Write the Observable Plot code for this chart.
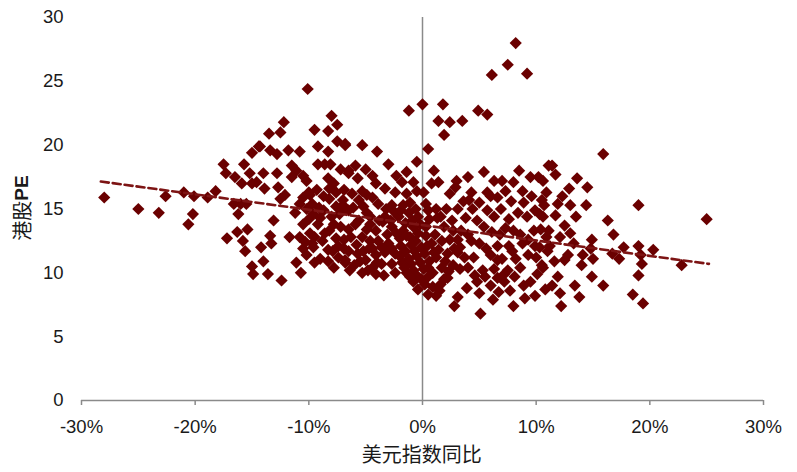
<!DOCTYPE html>
<html>
<head>
<meta charset="utf-8">
<script src="https://cdn.jsdelivr.net/npm/d3@7"></script>
<script src="https://cdn.jsdelivr.net/npm/@observablehq/plot@0.6"></script>
<style>
  html, body { margin: 0; padding: 0; background: #fff; }
  #chart svg { display: block; }
</style>
</head>
<body>
<div id="chart"></div>
<script>
// X: 美元指数同比 (%), Y: 港股PE
const xTicks = [-30, -20, -10, 0, 10, 20, 30];
const yTicks = [0, 5, 10, 15, 20, 25, 30];
const xLabel = "美元指数同比";
const yLabelCn = "港股";
const yLabelEn = "PE";

// trend line end points (linear fit drawn in the source)
const trendX = [-28.3, 25.2];
const trendY = [17.15, 10.7];

const leftPoints = [
  [-28.0,15.9],[-25.0,15.0],[-23.2,14.7],[-22.6,16.0],[-21.0,16.3],[-20.1,16.0],[-20.2,14.6],[-20.6,13.8],
  [-18.9,15.9],[-18.2,16.4],[-17.5,18.5],[-17.3,17.8],[-16.5,17.5],[-15.7,18.5],[-15.0,19.4],[-14.4,19.9],
  [-15.2,17.8],[-15.9,17.0],[-15.0,17.0],[-16.6,15.4],[-16.0,15.4],[-15.5,15.4],[-16.2,14.6],[-16.3,13.2],
  [-15.4,13.4],[-17.2,12.7],[-15.6,11.7],[-15.0,10.5],[-14.9,9.9],[-15.8,12.5],[-14.2,12.0],[-14.0,10.9]
];

const midLeftPoints = [
  [-10.1,24.4],[-12.2,21.8],[-13.5,20.9],[-12.5,21.0],[-14.3,19.9],[-13.4,19.6],[-12.8,19.3],[-11.8,19.6],
  [-10.8,19.5],[-8.0,22.3],[-7.5,21.6],[-9.5,21.2],[-8.3,21.1],[-7.5,20.3],[-6.8,20.1],[-9.2,19.9],
  [-8.3,19.5],[-14.0,17.8],[-12.8,17.8],[-11.5,18.4],[-11.1,18.0],[-10.5,17.6],[-11.5,17.5],[-10.2,17.2],
  [-9.2,18.5],[-8.6,18.5],[-8.1,18.5],[-7.2,18.1],[-6.5,18.0],[-8.3,17.4],[-7.8,17.0],[-8.2,16.6],
  [-14.6,17.1],[-13.9,16.6],[-12.7,16.7],[-12.1,16.1],[-12.5,15.8],[-10.5,15.9],[-9.9,16.1],[-10.8,15.4],
  [-9.7,15.4],[-10.2,15.0],[-9.1,15.1],[-11.2,14.7],[-8.2,15.8],[-7.0,15.7],[-6.8,15.0],[-7.3,14.6],
  [-13.1,14.1],[-10.5,13.8],[-9.2,13.8],[-8.2,13.3],[-7.2,13.6],[-13.4,12.9],[-13.3,12.3],[-11.7,12.8],
  [-10.8,12.8],[-9.5,12.8],[-8.8,12.5],[-9.7,12.3],[-10.5,11.9],[-10.2,11.4],[-11.1,10.8],[-9.5,10.8],
  [-7.9,11.7],[-6.9,11.9],[-6.8,10.8],[-13.6,9.9],[-12.4,9.4],[-10.7,10.0],
  [-10.0,16.3],[-9.3,16.5],[-8.7,16.0],[-7.6,16.3],[-6.9,16.5],[-4.9,16.1],[-9.6,14.6],[-8.7,14.9],
  [-8.0,14.4],[-7.6,15.2],[-6.1,15.1],[-5.2,15.2],[-4.6,14.4],[-10.0,14.2],[-9.0,14.3],[-7.8,13.8],
  [-6.5,13.4],[-5.6,14.1],[-4.9,13.4],[-3.8,14.1],[-9.9,13.1],[-8.6,13.1],[-7.6,12.7],[-6.9,12.6],
  [-5.8,12.2],[-4.6,12.5],[-10.3,12.4],[-8.3,11.8],[-7.4,12.1],[-5.2,11.7],[-4.4,11.9],[-9.0,11.1],
  [-8.3,10.9],[-7.4,11.2],[-5.5,10.9],[-4.0,10.8],[-7.8,10.4],[-6.4,10.2],[-4.8,10.2],[-9.6,12.0]
];

const centerPoints = [
  [-1.2,22.7],[0.0,23.2],[-6.8,20.0],[-5.3,20.0],[-4.0,19.5],[-3.0,18.5],[-0.5,18.7],[-5.9,18.4],
  [-5.0,18.1],[-6.5,17.8],[-5.7,17.4],[-4.4,17.6],[-4.1,17.0],[-2.3,17.6],[-1.4,17.9],[-1.8,17.1],
  [-0.8,17.1],[-3.3,16.6],[-2.4,16.3],[-1.4,16.2],[-0.5,16.4],[-6.2,16.2],[-5.3,16.4],[-5.6,15.7],
  [-4.4,15.9],[-3.9,15.4],[-7.0,15.3],[-6.5,14.9],[-4.9,14.7],[-2.7,15.3],[-1.7,15.3],[-1.1,15.5],
  [-3.3,14.4],[-2.1,14.4],[-0.4,14.4],[-0.8,13.6],[-5.9,13.8],[-4.6,13.8],[-4.1,13.3],[-2.7,13.6],
  [-1.7,13.3],[-6.3,12.8],[-5.3,12.8],[-3.9,12.5],[-3.0,12.3],[-2.0,12.7],[-1.1,12.8],[-0.4,13.1],
  [-6.5,11.7],[-5.7,11.5],[-4.7,11.9],[-4.1,11.4],[-3.3,11.6],[-2.4,11.5],[-1.5,11.7],[-0.7,11.7],
  [-0.1,12.0],[-6.8,11.0],[-6.0,10.6],[-5.0,11.0],[-4.4,10.4],[-3.6,10.7],[-2.7,10.7],[-1.8,10.8],
  [-1.0,10.7],[-0.2,10.8],[-5.3,10.0],[-4.1,9.9],[-3.4,9.8],[-2.4,10.0],[-1.4,10.0],[-0.5,9.8],
  [-0.8,9.3],[-0.1,9.5],
  [-3.2,15.0],[-2.5,14.8],[-1.9,14.9],[-1.2,14.7],[-0.6,15.0],[0.3,15.4],[-3.5,14.0],[-2.8,14.1],
  [-1.5,13.9],[-0.9,14.1],[-0.2,13.8],[0.6,14.2],[1.3,14.3],[-3.1,13.0],[-2.3,13.1],[-1.4,12.9],
  [-0.6,12.5],[0.3,12.9],[1.1,13.0],[2.4,12.6],[-3.6,12.0],[-2.7,11.9],[-1.9,12.1],[-1.0,12.2],
  [0.4,12.1],[1.4,11.8],[2.8,11.9],[-2.0,11.3],[-1.2,11.1],[-0.5,11.3],[0.6,10.9],[1.0,11.6],
  [2.0,10.9],[3.1,11.6],[-1.6,10.4],[-0.8,10.2],[0.1,10.3],[0.9,10.0],[2.3,10.1],[3.3,10.3],
  [-1.1,9.7],[0.2,9.1],[0.9,8.9],[1.6,9.1],[2.2,9.6],[-0.4,8.7],[0.5,8.3],[1.5,8.6]
];

const rightPoints = [
  [8.2,28.0],[7.5,26.3],[9.2,25.6],[6.1,25.5],[1.8,23.2],[1.4,21.9],[2.4,21.8],[3.5,21.9],[4.9,22.7],[5.7,22.4],
  [1.9,20.8],[0.5,19.7],[1.0,18.0],[1.4,17.1],[0.8,17.0],[3.0,17.2],[4.0,17.5],[5.4,17.9],[6.3,17.2],
  [7.0,17.2],[8.5,18.0],[9.5,17.5],[10.2,17.5],[11.1,18.4],[8.0,17.1],[0.1,16.3],[2.4,16.2],[4.3,16.3],
  [5.7,16.3],[7.3,16.4],[8.8,16.4],[4.1,15.7],[4.4,15.0],[6.6,15.9],[8.9,15.5],[10.5,15.7],[0.5,14.9],
  [1.2,15.0],[2.1,15.0],[3.1,15.0],[5.7,14.9],[6.9,15.0],[7.6,14.2],[9.2,14.4],[10.3,14.6],[0.3,13.6],
  [1.9,13.6],[2.7,13.3],[3.4,13.3],[5.4,13.6],[6.1,13.2],[8.0,13.3],[9.8,13.3],[10.9,12.8],[0.8,12.3],
  [1.7,12.5],[4.3,12.5],[5.0,12.3],[6.6,12.1],[7.6,12.1],[8.8,12.3],[9.9,12.1],[0.2,11.5],[1.2,11.2],
  [2.2,11.5],[3.7,11.2],[4.5,11.2],[6.0,11.4],[7.0,11.1],[8.2,11.1],[9.3,11.4],[0.5,10.4],[1.7,10.4],
  [2.7,10.6],[4.0,10.4],[5.3,10.2],[6.3,10.3],[7.5,10.2],[8.6,10.4],[10.5,10.6],[0.5,9.7],[1.9,9.5],
  [4.8,9.3],[6.0,9.0],[7.2,9.3],[9.5,9.3],[1.2,8.2],[3.1,8.1],[5.0,8.4],[6.7,8.5],[9.9,8.2],[2.8,7.4],
  [8.0,7.4],[5.1,6.8],
  [2.9,16.7],[3.6,15.6],[5.0,15.5],[6.0,16.0],[7.8,15.6],[9.6,16.0],[1.6,14.4],[2.6,14.1],[3.8,14.3],
  [4.8,14.1],[6.3,14.4],[8.4,14.7],[9.9,14.9],[3.1,12.6],[4.0,13.0],[6.8,13.0],[7.3,13.5],[8.6,13.0],
  [9.3,12.6],[10.3,12.0],[3.3,12.0],[5.6,11.9],[6.6,11.0],[7.9,11.7],[10.0,11.2],[10.4,13.4],[4.6,9.8],
  [5.5,9.7],[6.6,9.6],[8.1,9.7],[8.9,9.0],[10.1,9.9],[3.9,8.8],[7.7,8.6],[9.0,8.0],[6.2,7.9],[7.2,9.9]
];

const farRightPoints = [
  [15.9,19.3],[11.4,18.4],[11.7,17.7],[10.6,17.2],[12.9,16.6],[14.5,16.7],[10.7,15.3],[11.9,15.4],
  [13.0,15.3],[14.4,15.3],[19.0,15.3],[11.7,14.5],[10.6,14.4],[12.5,13.7],[16.3,14.1],[11.1,13.3],
  [13.0,13.1],[16.8,13.0],[14.9,12.6],[11.2,12.1],[13.3,12.3],[14.8,11.9],[17.7,12.0],[19.0,12.1],
  [20.3,11.8],[12.8,11.4],[14.1,11.4],[16.7,11.5],[17.3,11.1],[19.2,11.4],[12.5,11.0],[14.0,10.6],
  [15.0,11.1],[19.3,10.7],[22.8,10.6],[10.6,10.4],[19.0,9.8],[11.9,9.7],[11.4,9.0],[13.4,9.0],
  [14.9,9.7],[15.9,9.0],[12.1,8.4],[13.8,8.1],[18.5,8.3],[12.2,7.4],[19.4,7.6],[25.0,14.2],
  [10.8,8.7],[11.0,11.7],[11.6,10.9],[12.1,12.8],[13.5,14.4],[12.3,16.0],[13.6,17.4],[10.9,16.3]
];

const points = [...leftPoints, ...midLeftPoints, ...centerPoints, ...rightPoints, ...farRightPoints]
  .map(([x, y]) => ({x, y}));
const trend = trendX.map((x, i) => ({x, y: trendY[i]}));

const font = "'Liberation Sans', Arial, 'Noto Sans CJK SC', sans-serif";
const axisGray = "#8a8a8a";

const chart = Plot.plot({
  width: 797,
  height: 472,
  marginLeft: 81,
  marginRight: 34,
  marginTop: 17,
  marginBottom: 72,
  style: {fontFamily: font, color: "#1a1a1a", background: "#fff"},
  x: {domain: [-30, 30]},
  y: {domain: [0, 30]},
  marks: [
    Plot.ruleX([0], {stroke: axisGray, strokeWidth: 1.5}),
    Plot.ruleY([0], {stroke: axisGray, strokeWidth: 1.5}),
    Plot.axisX(xTicks, {
      tickSize: 5, tickPadding: 14, stroke: axisGray, strokeWidth: 1.5,
      fontSize: 18.5, tickFormat: d => d + "%", label: null
    }),
    Plot.axisY(yTicks, {tickSize: 0, tickPadding: 18, fontSize: 18.5, label: null}),
    Plot.dot(points, {x: "x", y: "y", symbol: "diamond2", r: 5.5, fill: "#6a0000", stroke: "none"}),
    Plot.line(trend, {x: "x", y: "y", stroke: "#7d1414", strokeWidth: 2.6, strokeDasharray: "8,4"})
  ]
});

const svg = d3.select(chart);
svg.append("text")
  .attr("x", 421.7).attr("y", 453)
  .attr("text-anchor", "middle").attr("dominant-baseline", "central")
  .attr("font-family", "'Noto Sans CJK SC', sans-serif").attr("font-size", 20)
  .attr("fill", "#1a1a1a")
  .text(xLabel);
const yl = svg.append("text")
  .attr("transform", "translate(21,208) rotate(-90)")
  .attr("text-anchor", "middle").attr("dominant-baseline", "central")
  .attr("font-size", 20).attr("fill", "#1a1a1a");
yl.append("tspan").attr("font-family", "'Noto Sans CJK SC', sans-serif").text(yLabelCn);
yl.append("tspan").attr("font-family", "'Liberation Sans', Arial, sans-serif").attr("font-weight", "bold").attr("font-size", 19).text(yLabelEn);

document.getElementById("chart").append(chart);
</script>
</body>
</html>
